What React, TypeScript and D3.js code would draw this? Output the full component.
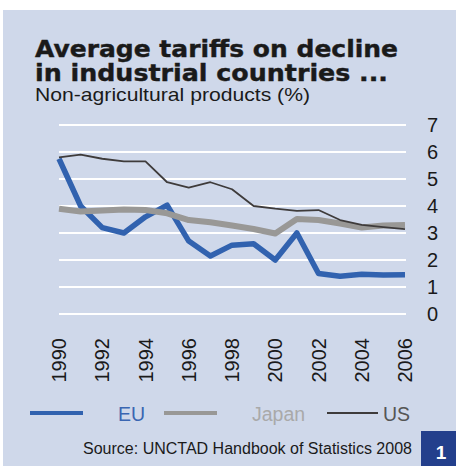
import React from "react";
import * as d3 from "d3";

const years = [1990, 1991, 1992, 1993, 1994, 1995, 1996, 1997, 1998, 1999, 2000, 2001, 2002, 2003, 2004, 2005, 2006];
const euValues = [5.75, 4.0, 3.2, 3.0, 3.6, 4.03, 2.7, 2.15, 2.55, 2.6, 2.0, 3.0, 1.5, 1.4, 1.47, 1.44, 1.45];
const japanValues = [3.9, 3.8, 3.83, 3.87, 3.85, 3.73, 3.48, 3.4, 3.28, 3.15, 2.98, 3.52, 3.48, 3.35, 3.2, 3.28, 3.3];
const usValues = [5.8, 5.9, 5.75, 5.65, 5.65, 4.88, 4.68, 4.88, 4.62, 4.0, 3.9, 3.82, 3.85, 3.48, 3.3, 3.22, 3.14];
const xTickLabels = ["1990", "1992", "1994", "1996", "1998", "2000", "2002", "2004", "2006"];
const yTickLabels = ["0", "1", "2", "3", "4", "5", "6", "7"];
const seriesNames = ["EU", "Japan", "US"];

const BG = "#cfd8ea";
const EU_C = "#3162af";
const JP_C = "#999896";
const US_C = "#3e3b3b";

export default function App() {
  const x = d3.scaleLinear().domain([1990, 2006]).range([59, 405]);
  const y = d3.scaleLinear().domain([0, 7]).range([314, 125]);
  const line = d3
    .line<number>()
    .x((_, i) => x(years[i]))
    .y((d) => y(d));

  const series = [
    { name: seriesNames[0], values: euValues, color: EU_C, width: 5.5 },
    { name: seriesNames[1], values: japanValues, color: JP_C, width: 6 },
    { name: seriesNames[2], values: usValues, color: US_C, width: 1.8 },
  ];

  const legend = [
    { name: seriesNames[0], color: EU_C, textColor: "#3a66b2", width: 4, x1: 30, x2: 83, tx: 118 },
    { name: seriesNames[1], color: JP_C, textColor: "#a9a9a9", width: 4, x1: 164, x2: 217, tx: 252 },
    { name: seriesNames[2], color: US_C, textColor: "#555", width: 2, x1: 327, x2: 378, tx: 383 },
  ];

  return (
    <svg
      width={456}
      height={466}
      style={{ position: "absolute", left: 0, top: 0, background: "#fff" }}
      fontFamily="'Liberation Sans', Arial, sans-serif"
    >
      <rect x={3} y={10} width={453} height={456} fill={BG} />
      <text x={35} y={56.5} fontFamily="'DejaVu Sans', sans-serif" fontWeight="bold" fontSize={22.5} fill="#1a1a1a" stroke="#1a1a1a" strokeWidth={0.4} textLength={363} lengthAdjust="spacingAndGlyphs">
        Average tariffs on decline
      </text>
      <text x={35} y={80.5} fontFamily="'DejaVu Sans', sans-serif" fontWeight="bold" fontSize={22.5} fill="#1a1a1a" stroke="#1a1a1a" strokeWidth={0.4} textLength={353} lengthAdjust="spacingAndGlyphs">
        in industrial countries ...
      </text>
      <text x={35} y={101} fontSize={18.5} fill="#1a1a1a" textLength={275} lengthAdjust="spacingAndGlyphs">
        Non-agricultural products (%)
      </text>

      {yTickLabels.map((t) => (
        <g key={t}>
          <line x1={59} x2={406} y1={y(+t)} y2={y(+t)} stroke="#fff" strokeWidth={2.2} />
          <text x={427} y={y(+t)} dy="0.36em" fontSize={20} fill="#1a1a1a">
            {t}
          </text>
        </g>
      ))}

      {series.map((s) => (
        <path key={s.name} d={line(s.values) || ""} fill="none" stroke={s.color} strokeWidth={s.width} strokeLinejoin="round" />
      ))}

      {xTickLabels.map((t) => (
        <text
          key={t}
          transform={`translate(${x(+t)},338) rotate(-90)`}
          textAnchor="end"
          dy="0.36em"
          fontSize={20}
          fill="#1a1a1a"
        >
          {t}
        </text>
      ))}

      {legend.map((l) => (
        <g key={l.name}>
          <line x1={l.x1} x2={l.x2} y1={413} y2={413} stroke={l.color} strokeWidth={l.width} />
          <text x={l.tx} y={420.5} fontSize={19.5} fill={l.textColor}>
            {l.name}
          </text>
        </g>
      ))}

      <text x={83} y={454} fontSize={16} fill="#1a1a1a" textLength={329} lengthAdjust="spacingAndGlyphs">
        Source: UNCTAD Handbook of Statistics 2008
      </text>
      <rect x={421} y={431} width={35} height={35} fill="#233f8c" />
      <text x={441} y={459} textAnchor="middle" fontSize={19} fontWeight="bold" fill="#fff">
        1
      </text>
    </svg>
  );
}
